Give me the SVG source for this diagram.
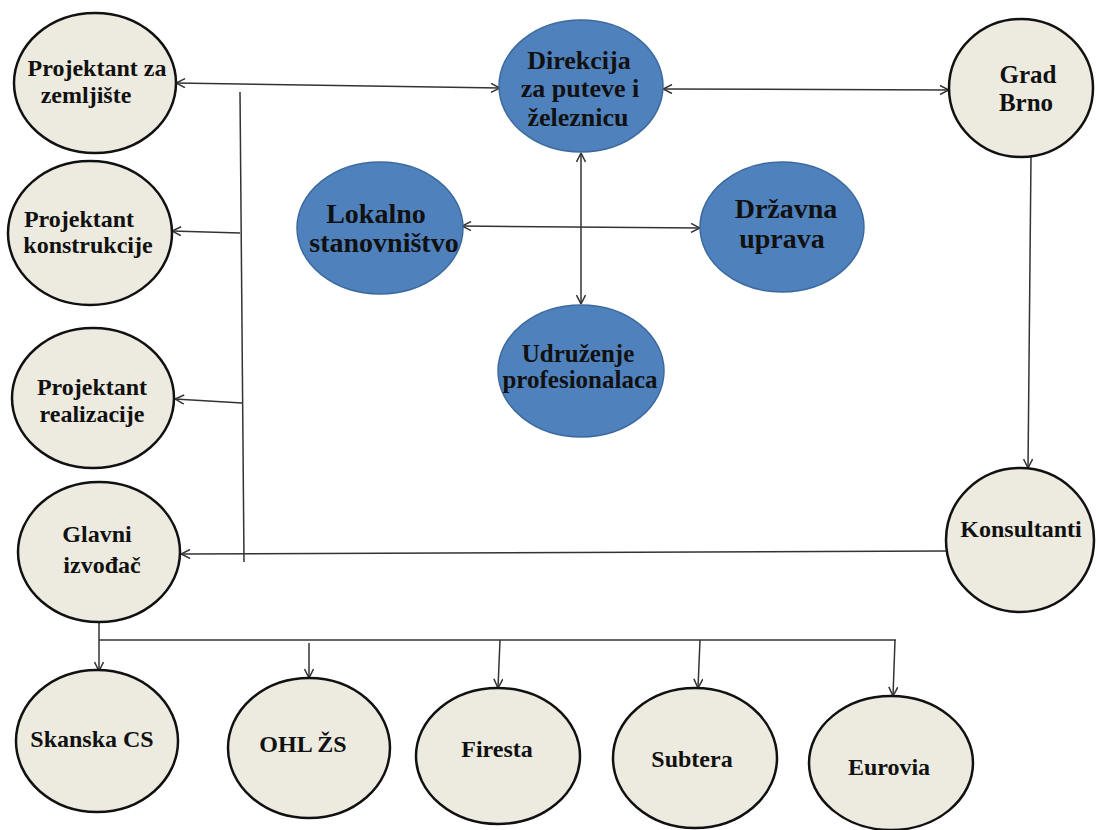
<svg xmlns="http://www.w3.org/2000/svg" width="1099" height="830" viewBox="0 0 1099 830">
<defs>
<marker id="ah" viewBox="0 0 10 10" refX="10" refY="5" markerWidth="10" markerHeight="10" markerUnits="userSpaceOnUse" orient="auto-start-reverse">
<path d="M1,0.5 L10,5 L1,9.5" fill="none" stroke="#333" stroke-width="1.5"/>
</marker>
<style>
.cream{fill:#EDEBE0;stroke:#111;stroke-width:2.5}
.blue{fill:#4F81BD;stroke:#3D6A9E;stroke-width:1.5}
text{font-family:"Liberation Serif","Times New Roman",serif;font-weight:bold;fill:#111;text-anchor:middle}
.s{font-size:24px}
.b{font-size:28px}
.d{font-size:26px}
.m{font-size:25px}
.c{stroke:#333;stroke-width:1.5;fill:none}
.a{marker-end:url(#ah)}
.aa{marker-start:url(#ah);marker-end:url(#ah)}
</style>
</defs>
<rect width="1099" height="830" fill="#fff"/>
<g id="connectors">
<line class="c aa" x1="176" y1="83" x2="500" y2="88"/>
<line class="c aa" x1="663" y1="89" x2="949" y2="90"/>
<line class="c" x1="240" y1="92" x2="244" y2="562"/>
<line class="c a" x1="240" y1="233" x2="172" y2="231"/>
<line class="c a" x1="242" y1="403" x2="175" y2="399"/>
<line class="c a" x1="946" y1="551" x2="181" y2="554"/>
<line class="c a" x1="1031" y1="157" x2="1028" y2="468"/>
<line class="c aa" x1="462" y1="226" x2="700" y2="228"/>
<line class="c aa" x1="581" y1="153" x2="581" y2="304"/>
<line class="c a" x1="99" y1="622" x2="99" y2="671"/>
<line class="c" x1="99" y1="640" x2="896" y2="640"/>
<line class="c a" x1="309" y1="643" x2="309" y2="678"/>
<line class="c a" x1="500" y1="640" x2="498" y2="688"/>
<line class="c a" x1="700" y1="640" x2="698" y2="688"/>
<line class="c a" x1="895" y1="640" x2="893" y2="696"/>
</g>
<g id="n-zemljiste"><ellipse class="cream" cx="95" cy="83" rx="81" ry="70"/><text class="s" x="97" y="76">Projektant za</text><text class="s" x="86" y="103">zemljište</text></g>
<g id="n-konstrukcije"><ellipse class="cream" cx="90" cy="233" rx="82" ry="72"/><text class="s" x="79" y="227">Projektant</text><text class="s" x="88" y="253">konstrukcije</text></g>
<g id="n-realizacije"><ellipse class="cream" cx="93" cy="398" rx="81" ry="70"/><text class="s" x="92" y="395">Projektant</text><text class="s" x="92" y="422">realizacije</text></g>
<g id="n-glavni"><ellipse class="cream" cx="99" cy="552" rx="81" ry="70"/><text class="s" x="97" y="542">Glavni</text><text class="s" x="102" y="573">izvođač</text></g>
<g id="n-direkcija"><ellipse class="blue" cx="581" cy="86" rx="82" ry="66"/><text class="d" x="579" y="69">Direkcija</text><text class="d" x="580" y="97">za puteve i</text><text class="d" x="578" y="126">železnicu</text></g>
<g id="n-lokalno"><ellipse class="blue" cx="380" cy="228" rx="83" ry="66"/><text class="b" x="376" y="223">Lokalno</text><text class="b" x="384" y="252">stanovništvo</text></g>
<g id="n-drzavna"><ellipse class="blue" cx="782" cy="227" rx="82" ry="65"/><text class="b" x="786" y="218">Državna</text><text class="b" x="782" y="248">uprava</text></g>
<g id="n-udruzenje"><ellipse class="blue" cx="581" cy="371" rx="83" ry="66"/><text class="m" x="578" y="362">Udruženje</text><text class="m" x="580" y="388">profesionalaca</text></g>
<g id="n-grad"><ellipse class="cream" cx="1021" cy="88" rx="72" ry="69"/><text class="m" x="1028" y="83">Grad</text><text class="m" x="1026" y="111">Brno</text></g>
<g id="n-konsultanti"><ellipse class="cream" cx="1020" cy="540" rx="74" ry="72"/><text class="s" x="1021" y="537">Konsultanti</text></g>
<g id="n-skanska"><ellipse class="cream" cx="97" cy="741" rx="81" ry="71"/><text class="s" x="92" y="747">Skanska CS</text></g>
<g id="n-ohl"><ellipse class="cream" cx="309" cy="748" rx="81" ry="70"/><text class="s" x="303" y="752">OHL ŽS</text></g>
<g id="n-firesta"><ellipse class="cream" cx="498" cy="756" rx="82" ry="68"/><text class="s" x="497" y="757">Firesta</text></g>
<g id="n-subtera"><ellipse class="cream" cx="695" cy="758" rx="82" ry="70"/><text class="s" x="692" y="767">Subtera</text></g>
<g id="n-eurovia"><ellipse class="cream" cx="891" cy="763" rx="82" ry="67"/><text class="s" x="889" y="775">Eurovia</text></g>
</svg>
